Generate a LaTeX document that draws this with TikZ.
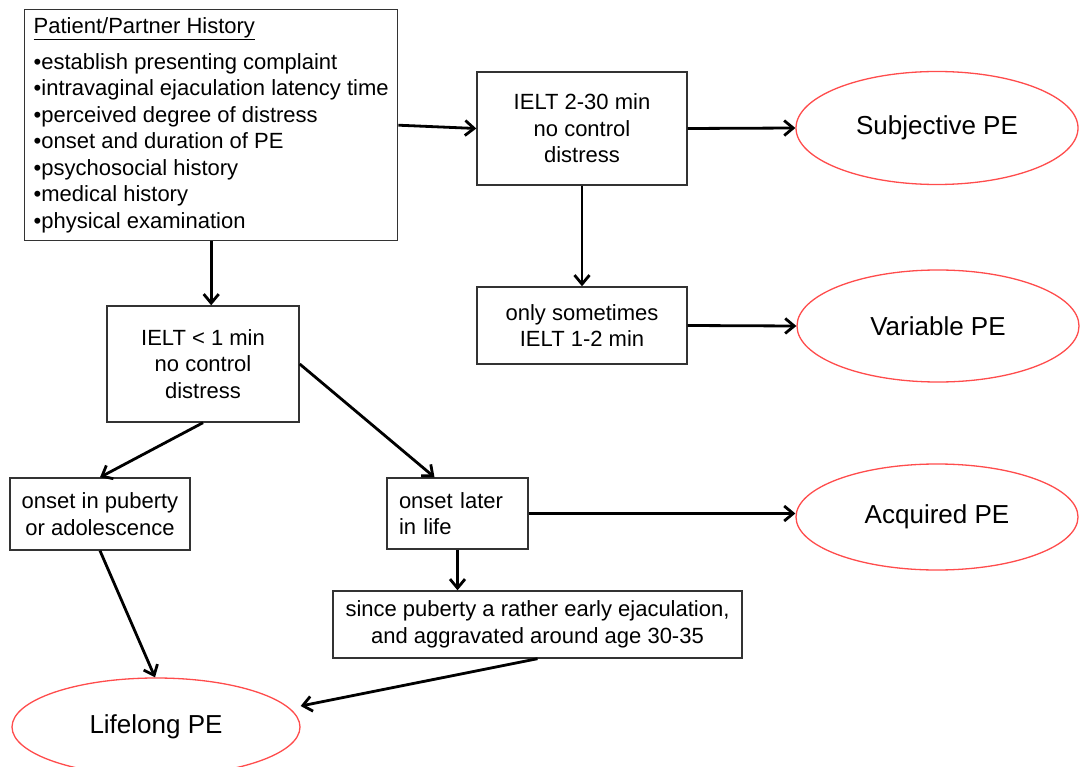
\documentclass[tikz,border=0pt]{standalone}
\usepackage{fontspec}
\setmainfont{Liberation Sans}
\usetikzlibrary{shapes.geometric,arrows.meta}

\begin{document}
\begin{tikzpicture}[
		x=1pt, y=-1pt,
		every node/.style={font=\fontsize{22}{26.5}\selectfont},
		box/.style={draw=black!80, line width=1.4pt, align=center, inner sep=0pt},
		result/.style={draw=red!70, line width=1.3pt, ellipse, inner sep=0pt, minimum width=282pt, font=\fontsize{26}{30}\selectfont},
		flow/.style={-{Straight Barb[length=9pt,width=15pt]}, line width=2.8pt},
	]
	\useasboundingbox (0,0) rectangle (1084,767);

	\node[box, anchor=north west, align=left, inner xsep=9pt, minimum width=373pt, minimum height=231pt] (hist) at (24,9) {\underline{Patient/Partner History}\\[9pt]
		•establish presenting complaint\\
		•intravaginal ejaculation latency time\\
		•perceived degree of distress\\
		•onset and duration of PE\\
		•psychosocial history\\
		•medical history\\
		•physical examination};

	\node[box, minimum width=210pt, minimum height=113pt] (long) at (582,128.5) {IELT 2-30 min\\ no control\\ distress};
	\node[result, minimum height=113pt] (subj) at (937,128) {Subjective PE};

	\node[box, minimum width=210pt, minimum height=77pt] (some) at (582,325.5) {only sometimes\\ IELT 1-2 min};
	\node[result, minimum height=112pt] (var) at (938,326) {Variable PE};

	\node[box, minimum width=192pt, minimum height=116pt] (short) at (203,364) {IELT < 1 min\\ no control\\ distress};

	\node[box, minimum width=180pt, minimum height=72pt] (early) at (100,514) {onset in puberty\\ or adolescence};
	\node[box, align=left, text width=117pt, inner xsep=12pt, minimum height=71pt] (later) at (457.5,513.5) {onset later\\ in life};
	\node[result, minimum height=106pt] (acq) at (937,517) {Acquired PE};

	\node[box, minimum width=409pt, minimum height=67pt] (since) at (537.5,624.5) {since puberty a rather early ejaculation,\\ and aggravated around age 30-35};
	\node[result, minimum width=288pt, minimum height=98pt] (life) at (156,727) {Lifelong PE};

	\draw[flow] (hist.east) -- (long.west);
	\draw[flow] (long.east) -- (subj.west);
	\draw[flow] (long.south) -- (some.north);
	\draw[flow] (some.east) -- (var.west);
	\draw[flow] (hist.south) -- (hist.south |- short.north);
	\draw[flow] (short.south) -- (early.north);
	\draw[flow] (short.east) -- ([xshift=-23pt]later.north);
	\draw[flow] (later.east) -- (later.east -| acq.west);
	\draw[flow] (later.south) -- (later.south |- since.north);
	\draw[flow] (early.south) -- ([xshift=-1pt]life.north);
	\draw[flow] (since.south) -- ([yshift=21pt]life.east);
\end{tikzpicture}
\end{document}
